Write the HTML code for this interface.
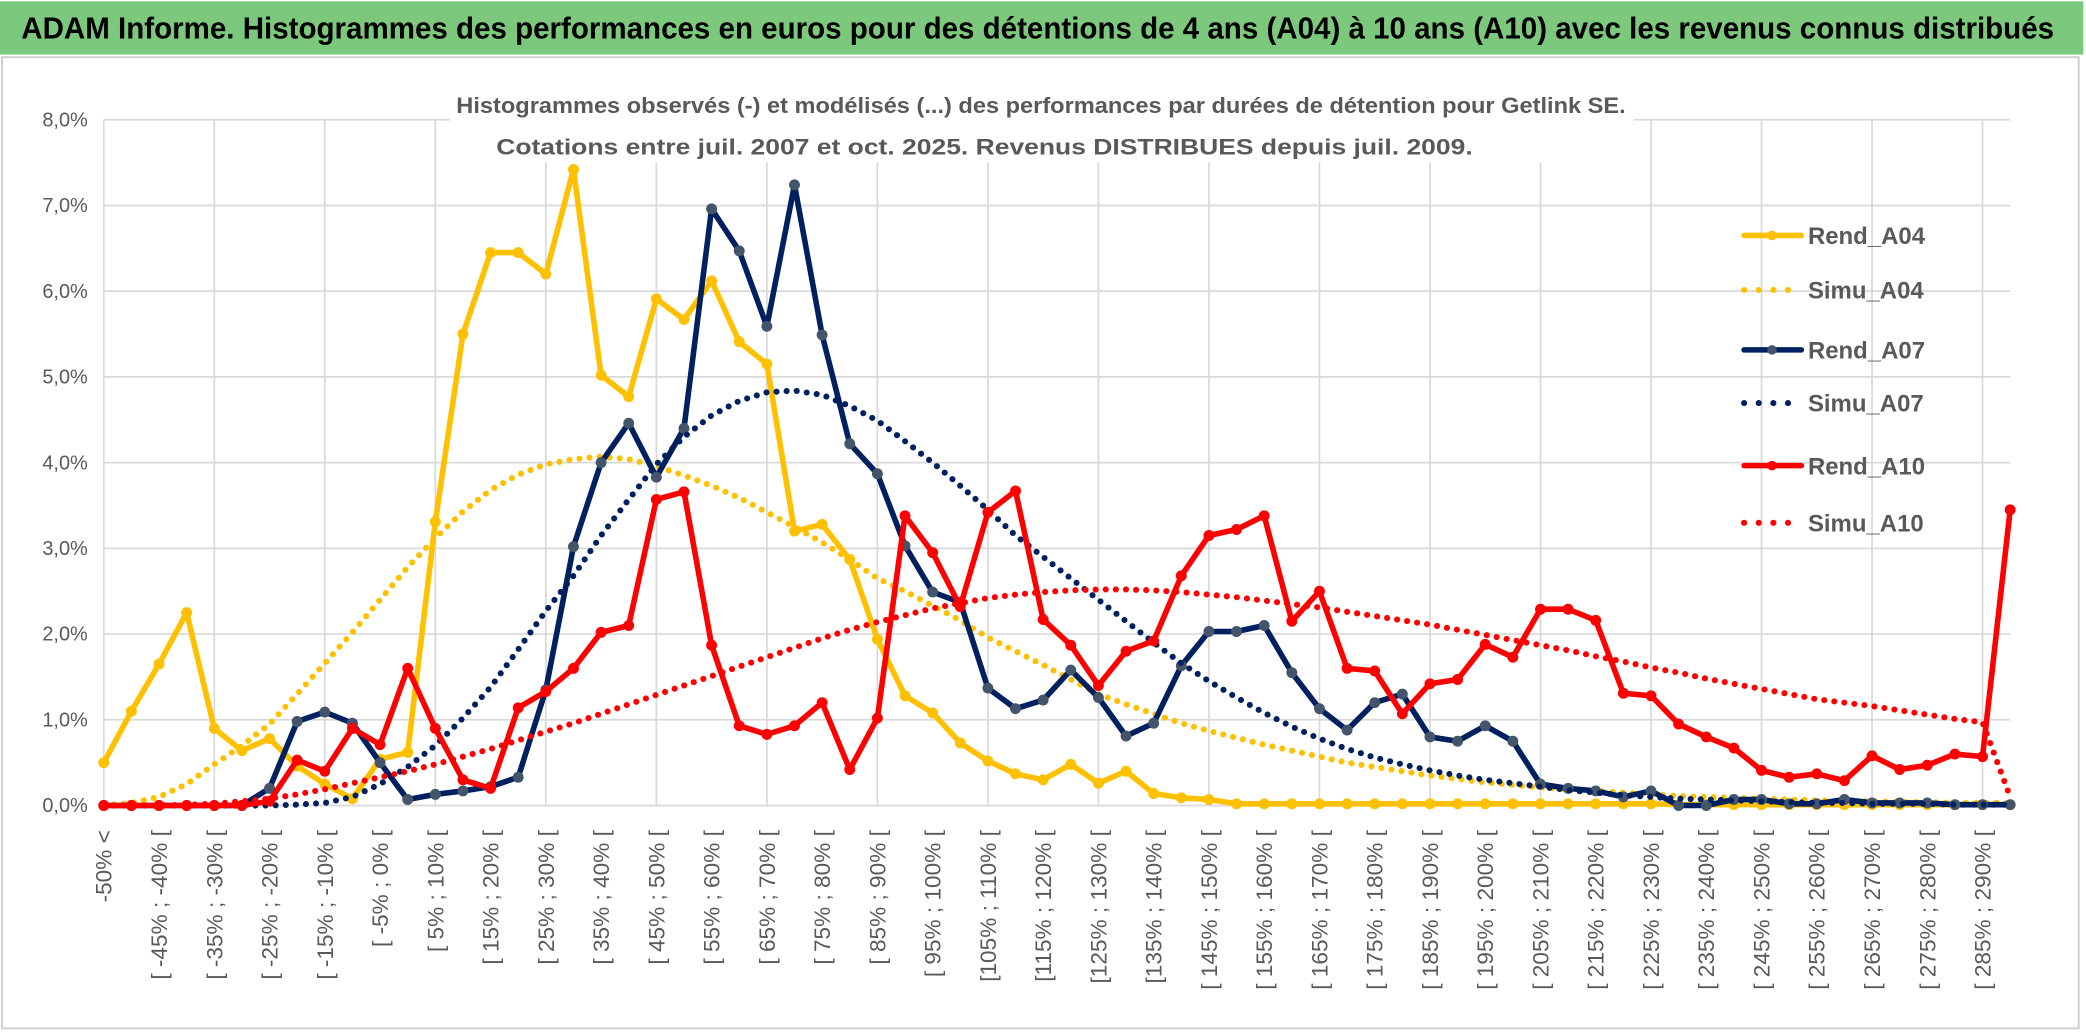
<!DOCTYPE html>
<html><head><meta charset="utf-8"><style>
html,body{margin:0;padding:0;background:#fff;}
svg{display:block;}
text{font-family:"Liberation Sans",sans-serif;}
</style></head><body>
<svg id="chart" width="2086" height="1033" viewBox="0 0 1568 776.5" preserveAspectRatio="none" xmlns="http://www.w3.org/2000/svg">
<rect x="0" y="0" width="1568" height="776.5" fill="#ffffff"/>
<rect x="0" y="1" width="1566" height="40" fill="#7cc87c"/>
<text x="16" y="29" font-size="23" font-weight="bold" fill="#000" textLength="1528" lengthAdjust="spacingAndGlyphs">ADAM Informe. Histogrammes des performances en euros pour des détentions de 4 ans (A04) à 10 ans (A10) avec les revenus connus distribués</text>
<rect x="1.5" y="43" width="1561" height="730" fill="none" stroke="#d0d0d0" stroke-width="1.5"/>
<g id="grid"></g>
<rect x="338" y="62" width="890" height="60" fill="#fff"/>
<text x="343" y="85" font-size="17" font-weight="bold" fill="#595959" textLength="879" lengthAdjust="spacingAndGlyphs">Histogrammes observés (-) et modélisés (...) des performances par durées de détention pour Getlink SE.</text>
<text x="373" y="116" font-size="17" font-weight="bold" fill="#595959" textLength="734" lengthAdjust="spacingAndGlyphs">Cotations entre juil. 2007 et oct. 2025. Revenus DISTRIBUES depuis juil. 2009.</text>
<g id="yaxis"></g>
<g id="xaxis"></g>
<g id="series"></g>
<g id="legend"></g>
</svg>
<script>
const categories = ["-50% <","[ -50% ; -45% [","[ -45% ; -40% [","[ -40% ; -35% [","[ -35% ; -30% [","[ -30% ; -25% [","[ -25% ; -20% [","[ -20% ; -15% [","[ -15% ; -10% [","[ -10% ; -5% [","[ -5% ; 0% [","[ 0% ; 5% [","[ 5% ; 10% [","[ 10% ; 15% [","[ 15% ; 20% [","[ 20% ; 25% [","[ 25% ; 30% [","[ 30% ; 35% [","[ 35% ; 40% [","[ 40% ; 45% [","[ 45% ; 50% [","[ 50% ; 55% [","[ 55% ; 60% [","[ 60% ; 65% [","[ 65% ; 70% [","[ 70% ; 75% [","[ 75% ; 80% [","[ 80% ; 85% [","[ 85% ; 90% [","[ 90% ; 95% [","[ 95% ; 100% [","[ 100% ; 105% [","[105% ; 110% [","[110% ; 115% [","[115% ; 120% [","[120% ; 125% [","[125% ; 130% [","[130% ; 135% [","[135% ; 140% [","[140% ; 145% [","[ 145% ; 150% [","[ 150% ; 155% [","[ 155% ; 160% [","[ 160% ; 165% [","[ 165% ; 170% [","[ 170% ; 175% [","[ 175% ; 180% [","[ 180% ; 185% [","[ 185% ; 190% [","[ 190% ; 195% [","[ 195% ; 200% [","[ 200% ; 205% [","[ 205% ; 210% [","[ 210% ; 215% [","[ 215% ; 220% [","[ 220% ; 225% [","[ 225% ; 230% [","[ 230% ; 235% [","[ 235% ; 240% [","[ 240% ; 245% [","[ 245% ; 250% [","[ 250% ; 255% [","[ 255% ; 260% [","[ 260% ; 265% [","[ 265% ; 270% [","[ 270% ; 275% [","[ 275% ; 280% [","[ 280% ; 285% [","[ 285% ; 290% [","[ 290% ; 295% ["];
const yTicks = [0,1,2,3,4,5,6,7,8];
const yTickLabels = ["0,0%","1,0%","2,0%","3,0%","4,0%","5,0%","6,0%","7,0%","8,0%"];
const rendA04 = [0.5,1.1,1.65,2.25,0.9,0.64,0.78,0.46,0.25,0.08,0.54,0.62,3.31,5.5,6.45,6.45,6.2,7.42,5.02,4.77,5.91,5.67,6.12,5.41,5.15,3.2,3.28,2.87,1.94,1.28,1.08,0.73,0.52,0.37,0.3,0.48,0.26,0.4,0.14,0.09,0.07,0.02,0.02,0.02,0.02,0.02,0.02,0.02,0.02,0.02,0.02,0.02,0.02,0.02,0.02,0.02,0.02,0.01,0.01,0.01,0.01,0.01,0.01,0.01,0.01,0.01,0.01,0.01,0.01,0.01];
const simuA04 = [0,0.03,0.1,0.25,0.48,0.7,0.95,1.3,1.66,2.02,2.4,2.78,3.12,3.43,3.68,3.86,3.98,4.04,4.07,4.04,3.96,3.85,3.73,3.59,3.42,3.25,3.07,2.87,2.65,2.5,2.33,2.16,1.96,1.8,1.64,1.47,1.3,1.18,1.07,0.96,0.87,0.79,0.71,0.64,0.57,0.5,0.45,0.4,0.35,0.31,0.27,0.24,0.21,0.19,0.17,0.15,0.13,0.11,0.1,0.09,0.08,0.07,0.06,0.05,0.05,0.04,0.04,0.03,0.03,0.03];
const rendA07 = [0,0,0,0,0,0,0.2,0.98,1.09,0.96,0.5,0.07,0.13,0.17,0.22,0.33,1.35,3.02,4.0,4.46,3.83,4.4,6.96,6.47,5.59,7.24,5.49,4.22,3.87,3.03,2.49,2.37,1.37,1.13,1.23,1.58,1.26,0.81,0.96,1.63,2.03,2.03,2.1,1.55,1.13,0.88,1.2,1.3,0.8,0.75,0.93,0.75,0.25,0.2,0.17,0.1,0.17,0,0,0.07,0.07,0.02,0.02,0.07,0.03,0.03,0.03,0.01,0.01,0.01];
const simuA07 = [0,0,0,0,0,0,0,0.01,0.03,0.1,0.25,0.45,0.7,1.02,1.38,1.82,2.27,2.68,3.15,3.57,3.98,4.3,4.55,4.72,4.82,4.84,4.79,4.66,4.49,4.25,4.0,3.73,3.45,3.15,2.9,2.65,2.4,2.15,1.9,1.66,1.45,1.26,1.08,0.92,0.78,0.66,0.56,0.48,0.41,0.35,0.3,0.26,0.22,0.18,0.15,0.12,0.1,0.08,0.07,0.06,0.05,0.04,0.03,0.03,0.02,0.02,0.02,0.01,0.01,0.01];
const rendA10 = [0,0,0,0,0,0,0.05,0.53,0.4,0.9,0.71,1.6,0.9,0.3,0.2,1.14,1.33,1.6,2.02,2.1,3.57,3.66,1.87,0.93,0.83,0.93,1.2,0.42,1.02,3.38,2.95,2.32,3.42,3.67,2.17,1.87,1.4,1.8,1.92,2.68,3.15,3.22,3.38,2.15,2.5,1.6,1.57,1.07,1.42,1.47,1.88,1.73,2.29,2.29,2.16,1.31,1.28,0.95,0.8,0.67,0.41,0.33,0.37,0.29,0.58,0.42,0.47,0.6,0.57,3.45];
const simuA10 = [0,0,0,0.01,0.02,0.05,0.08,0.13,0.19,0.26,0.33,0.4,0.48,0.57,0.66,0.76,0.86,0.96,1.07,1.18,1.29,1.4,1.51,1.62,1.73,1.84,1.95,2.05,2.14,2.22,2.3,2.36,2.42,2.46,2.49,2.51,2.52,2.52,2.51,2.49,2.46,2.43,2.39,2.35,2.31,2.26,2.21,2.16,2.11,2.05,1.99,1.93,1.87,1.81,1.74,1.68,1.61,1.55,1.48,1.42,1.36,1.3,1.24,1.2,1.16,1.11,1.06,1.01,0.97,0.1];
const seriesNames = ["Rend_A04","Simu_A04","Rend_A07","Simu_A07","Rend_A10","Simu_A10"];

const NS = "http://www.w3.org/2000/svg";
const X0 = 78, X1 = 1511, Y0 = 605.5, Y8 = 90;
const n = categories.length;
function xs(i){ return X0 + i*(X1-X0)/(n-1); }
function ys(v){ return Y0 - v*(Y0-Y8)/8; }
function mk(tag, attrs, parent){ const e=document.createElementNS(NS,tag); for(const k in attrs) e.setAttribute(k,attrs[k]); parent.appendChild(e); return e; }

const grid = document.getElementById('grid');
yTicks.forEach(function(t){
  const l = mk('line',{x1:X0,x2:X1,y1:ys(t),y2:ys(t),stroke:'#d9d9d9','stroke-width':1.3},grid);
  
  
});
for(let i=0;i<n;i+=4){
  const l = mk('line',{x1:xs(i),x2:xs(i),y1:Y8,y2:Y0,stroke:'#d9d9d9','stroke-width':1.3},grid);
  
  
}
const yaxis = document.getElementById('yaxis');
yTicks.forEach(function(t,k){
  const tx = mk('text',{x:66,y:ys(t)+5,'font-size':15,fill:'#595959','text-anchor':'end'},yaxis);
  tx.textContent = yTickLabels[k];
  
  
});
const xaxis = document.getElementById('xaxis');
for(let i=0;i<n;i+=2){
  const x = xs(i)+6, y = 624;
  const tx = mk('text',{x:x,y:y,'font-size':17,fill:'#595959','text-anchor':'end',transform:'rotate(-90 '+x+' '+y+')'},xaxis);
  tx.textContent = categories[i];
  
  
}
const sg = document.getElementById('series');
function solid(data, color, mcolor, name){
  const pts = data.map(function(v,i){return xs(i).toFixed(2)+','+ys(v).toFixed(2);}).join(' ');
  const p = mk('polyline',{points:pts,fill:'none',stroke:color,'stroke-width':4.2,'stroke-linejoin':'round','stroke-linecap':'round'},sg);
  
  
  data.forEach(function(v,i){
    const c = mk('circle',{cx:xs(i),cy:ys(v),r:3.6,fill:mcolor,stroke:mcolor,'stroke-width':1},sg);
    
    
  });
}
function dotted(data, color, name){
  const pts = data.map(function(v,i){return xs(i).toFixed(2)+','+ys(v).toFixed(2);}).join(' ');
  const p = mk('polyline',{points:pts,fill:'none',stroke:color,'stroke-width':4.6,'stroke-linecap':'round','stroke-dasharray':'0 7.6'},sg);
  
  
}
solid(rendA04,'#ffc000','#ffc000','rend-a04');
dotted(simuA04,'#ffc000','simu-a04');
solid(rendA07,'#002060','#44546a','rend-a07');
dotted(simuA07,'#002060','simu-a07');
solid(rendA10,'#ff0000','#ff0000','rend-a10');
dotted(simuA10,'#ff0000','simu-a10');

const lg = document.getElementById('legend');
const legY = [177,218,263,303,350,393];
const legCol = ['#ffc000','#ffc000','#002060','#002060','#ff0000','#ff0000'];
const legMark = ['#ffc000',null,'#44546a',null,'#ff0000',null];
seriesNames.forEach(function(nm,k){
  const g = mk('g',{},lg);
  
  
  const y = legY[k];
  if(legMark[k]){
    mk('line',{x1:1311,x2:1354,y1:y,y2:y,stroke:legCol[k],'stroke-width':4.2,'stroke-linecap':'round'},g);
    mk('circle',{cx:1332,cy:y,r:3.6,fill:legMark[k]},g);
  } else {
    mk('line',{x1:1311,x2:1354,y1:y,y2:y,stroke:legCol[k],'stroke-width':4.6,'stroke-linecap':'round','stroke-dasharray':'0 11'},g);
  }
  const t = mk('text',{x:1359,y:y+6.5,'font-size':18,'font-weight':'bold',fill:'#595959'},g);
  t.textContent = nm;
});
</script>
</body></html>
